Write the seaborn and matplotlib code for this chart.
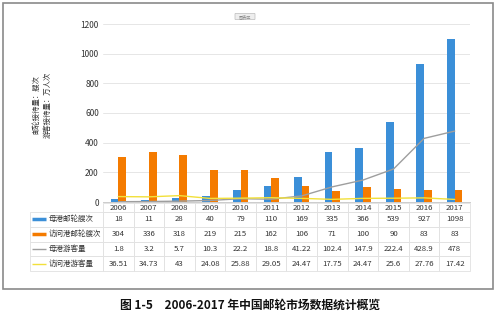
import numpy as np
import pandas as pd
import matplotlib
matplotlib.use("Agg")
import matplotlib.pyplot as plt
import matplotlib.patches as mpatches
import seaborn as sns

years = ["2006", "2007", "2008", "2009", "2010", "2011", "2012", "2013", "2014", "2015", "2016", "2017"]
home_ships = [18, 11, 28, 40, 79, 110, 169, 335, 366, 539, 927, 1098]
visit_ships = [304, 336, 318, 219, 215, 162, 106, 71, 100, 90, 83, 83]
home_pax = [1.8, 3.2, 5.7, 10.3, 22.2, 18.8, 41.22, 102.4, 147.9, 222.4, 428.9, 478]
visit_pax = [36.51, 34.73, 43, 24.08, 25.88, 29.05, 24.47, 17.75, 24.47, 25.6, 27.76, 17.42]
series_names = ["母港邮轮艘次", "访问港邮轮艘次", "母港游客量", "访问港游客量"]
yticks = [0, 200, 400, 600, 800, 1000, 1200]
ylabel = "邮轮接待量：艘次\n游客接待量：万人次"
caption = "图 1-5　2006-2017 年中国邮轮市场数据统计概览"

c_blue = "#3b8fd8"
c_orange = "#f47b00"
c_gray = "#9e9e9e"
c_yellow = "#f2e03a"

sns.set_theme(style="white")
plt.rcParams['font.family'] = ['Noto Sans CJK SC', 'DejaVu Sans']

W, H = 500, 321
fig = plt.figure(figsize=(5, 3.21), dpi=100)
ax = fig.add_axes([103 / W, 1 - 202 / H, 367 / W, 178 / H])

df = pd.DataFrame({
    "year": years * 2,
    "value": home_ships + visit_ships,
    "series": [series_names[0]] * len(years) + [series_names[1]] * len(years),
})
sns.barplot(data=df, x="year", y="value", hue="series", order=years,
            hue_order=series_names[:2], palette=[c_blue, c_orange],
            width=0.5, saturation=1, legend=False, ax=ax, linewidth=0)
xpos = np.arange(len(years))
sns.lineplot(x=xpos, y=home_pax, color=c_gray, linewidth=1.0, ax=ax)
sns.lineplot(x=xpos, y=visit_pax, color=c_yellow, linewidth=1.0, ax=ax)

ax.set_xlim(-0.5, len(years) - 0.5)
ax.set_ylim(0, 1200)
ax.set_yticks(yticks)
ax.set_yticklabels([str(v) for v in yticks], fontsize=6, color="#333333")
ax.tick_params(axis="y", length=0, pad=3)
ax.set_xticks([])
ax.set_xlabel("")
ax.set_ylabel("")
ax.grid(axis="y", color="#e6e6e6", linewidth=0.7)
ax.set_axisbelow(True)
for s in ["left", "right", "top"]:
    ax.spines[s].set_visible(False)
ax.spines["bottom"].set_color("#cccccc")
ax.spines["bottom"].set_linewidth(0.7)

# data table (first column carries the series names)
def fmt(v):
    return ("%g" % v)

rows = [home_ships, visit_ships, home_pax, visit_pax]
cell_text = [[n] + [fmt(v) for v in row] for n, row in zip(series_names, rows)]
tbl = ax.table(cellText=cell_text, colLabels=[""] + years, cellLoc="center",
               bbox=[-73 / 367, -(271 - 202) / 178, 440 / 367, (271 - 203) / 178])
tbl.auto_set_font_size(False)
tbl.set_fontsize(5.6)
for (r, c), cell in tbl.get_celld().items():
    cell.set_edgecolor("#e0e0e0")
    cell.set_linewidth(0.6)
    cell.get_text().set_color("#333333")
    cell.set_height(9 if r == 0 else 14.75)
    cell.set_width(73 if c == 0 else 367 / 12)
    if c == 0:
        cell._loc = "left"
        cell.PAD = 0.26
        cell.get_text().set_horizontalalignment("left")
        cell.get_text().set_fontsize(5.4)
        if r == 0:
            cell.visible_edges = ""

fig.canvas.draw()
key_colors = [c_blue, c_orange, c_gray, c_yellow]
key_widths = [2.5, 2.5, 1.0, 1.0]
for i, (kc, kw) in enumerate(zip(key_colors, key_widths)):
    cell = tbl.get_celld()[(i + 1, 0)]
    x0 = cell.get_x()
    y0 = cell.get_y() + cell.get_height() / 2
    w = cell.get_width()
    ax.plot([x0 + 0.03 * w, x0 + 0.22 * w], [y0, y0], transform=ax.transAxes,
            color=kc, linewidth=kw, clip_on=False, solid_capstyle="butt", zorder=5)

fig.text(42 / W, 1 - 105 / H, ylabel, rotation=90, ha="center", va="center",
         fontsize=5.3, color="#333333", linespacing=1.5)

# chart-area tag
fig.patches.append(mpatches.FancyBboxPatch((236 / W, 1 - 19 / H), 18 / W, 5 / H,
                   boxstyle="round,pad=0.002", transform=fig.transFigure,
                   facecolor="#eeeeee", edgecolor="#bbbbbb", linewidth=0.5))
fig.text(245 / W, 1 - 16.5 / H, "图表区", fontsize=3, ha="center", va="center", color="#888888")

# outer frame
fig.patches.append(mpatches.Rectangle((3 / W, 1 - 289 / H), 490 / W, 286 / H,
                   transform=fig.transFigure, fill=False, edgecolor="#8a8a8a", linewidth=1.2))

fig.text(250 / W, 1 - 305 / H, caption, ha="center", va="center", fontsize=8.5,
         fontweight="bold", color="#111111")

fig.savefig("out.png", dpi=100)
